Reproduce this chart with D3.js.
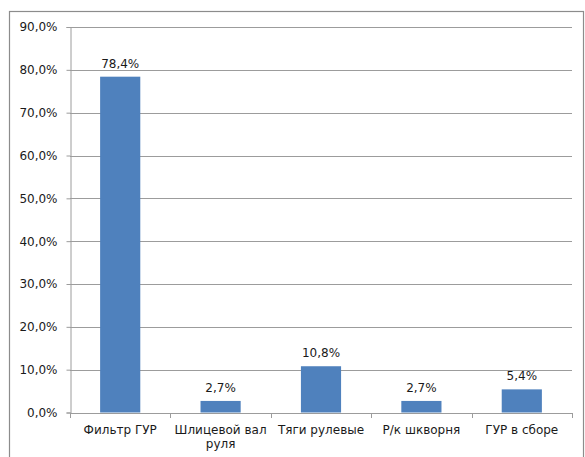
<!DOCTYPE html>
<html>
<head>
<meta charset="utf-8">
<script src="https://cdn.jsdelivr.net/npm/d3@7"></script>
<style>
  html, body { margin: 0; padding: 0; background: #fff; }
  svg { display: block; }
  text { font-family: "DejaVu Sans", Verdana, sans-serif; fill: #1a1a1a; }
</style>
</head>
<body>
<svg id="chart" width="585" height="457"></svg>
<script>
// Share of failures by steering component
const categories = ["Фильтр ГУР", "Шлицевой вал руля", "Тяги рулевые", "Р/к шкворня", "ГУР в сборе"];
const values = [78.4, 2.7, 10.8, 2.7, 5.4];
const yTicks = [0, 10, 20, 30, 40, 50, 60, 70, 80, 90];

const svg = d3.select("#chart");
const W = 585, H = 457;
const plotLeft = 70, plotRight = 572, plotTop = 27, plotBottom = 412.5;
const gridColor = "#9c9c9c";

// outer frame of the chart area
svg.append("rect")
  .attr("x", 9.5).attr("y", 11.5)
  .attr("width", 583 - 9).attr("height", H)
  .attr("fill", "none").attr("stroke", "#8c8c8c").attr("stroke-width", 1.2);

const x = d3.scaleBand().domain(categories).range([plotLeft, plotRight]).paddingInner(0.6).paddingOuter(0.3);
const xOuter = d3.scaleBand().domain(categories).range([plotLeft, plotRight]);
const y = d3.scaleLinear().domain([0, 90]).range([plotBottom, plotTop]);

const fmt = v => d3.format(".1f")(v).replace(".", ",") + "%";

// horizontal gridlines
svg.append("g").selectAll("line").data(yTicks.filter(t => t > 0)).join("line")
  .attr("x1", plotLeft).attr("x2", plotRight)
  .attr("y1", d => Math.round(y(d)) + 0.5).attr("y2", d => Math.round(y(d)) + 0.5)
  .attr("stroke", gridColor).attr("stroke-width", 1);

// y axis
const yAxis = d3.axisLeft(y).tickValues(yTicks).tickFormat(fmt).tickSize(4).tickPadding(9);
const gy = svg.append("g").attr("transform", `translate(${plotLeft + 0.5},0)`).call(yAxis);
gy.select(".domain").attr("stroke", gridColor);
gy.selectAll(".tick line").attr("stroke", gridColor);
gy.selectAll(".tick text").attr("font-size", "12px").attr("fill", "#1a1a1a")
  .style("font-family", "'DejaVu Sans', Verdana, sans-serif");

// x axis baseline and category separator ticks
svg.append("line")
  .attr("x1", plotLeft).attr("x2", plotRight)
  .attr("y1", Math.round(plotBottom) + 0.5).attr("y2", Math.round(plotBottom) + 0.5)
  .attr("stroke", gridColor);
const bounds = categories.map(c => xOuter(c)).concat([plotRight]);
svg.append("g").selectAll("line").data(bounds).join("line")
  .attr("x1", d => Math.round(d) + 0.5).attr("x2", d => Math.round(d) + 0.5)
  .attr("y1", Math.round(plotBottom)).attr("y2", Math.round(plotBottom) + 5)
  .attr("stroke", gridColor);

// bars
svg.append("g").selectAll("rect").data(values).join("rect")
  .attr("x", (d, i) => x(categories[i]))
  .attr("width", x.bandwidth())
  .attr("y", d => y(d))
  .attr("height", d => y(0) - y(d))
  .attr("fill", "#4f81bd");

// value labels
svg.append("g").selectAll("text").data(values).join("text")
  .attr("x", (d, i) => x(categories[i]) + x.bandwidth() / 2)
  .attr("y", d => y(d) - 9)
  .attr("text-anchor", "middle")
  .attr("font-size", "12px")
  .text(d => fmt(d));

// category labels, wrapped to two lines where needed
const catLines = {"Шлицевой вал руля": ["Шлицевой вал", "руля"]};
const cl = svg.append("g").selectAll("text").data(categories).join("text")
  .attr("x", d => xOuter(d) + xOuter.bandwidth() / 2)
  .attr("y", 434)
  .attr("text-anchor", "middle")
  .attr("font-size", "12px");
cl.each(function(d) {
  const lines = catLines[d] || [d];
  const t = d3.select(this);
  lines.forEach((ln, k) => {
    t.append("tspan").attr("x", xOuter(d) + xOuter.bandwidth() / 2)
      .attr("dy", k === 0 ? 0 : 14).text(ln);
  });
});
</script>
</body>
</html>
